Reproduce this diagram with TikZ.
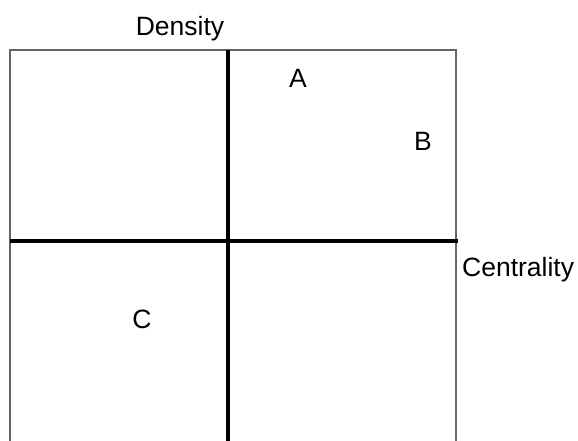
\documentclass[tikz,border=0pt]{standalone}
\usepackage{fontspec}
\setmainfont{Liberation Sans}
\begin{document}
\begin{tikzpicture}[x=1pt,y=-1pt,
  lbl/.style={anchor=base,inner sep=0pt,font=\fontsize{26.5}{31}\selectfont},
  outline/.style={draw=black!60,line width=1.3pt},
  axis/.style={draw=black,line width=3.5pt}]
\useasboundingbox (0,0) rectangle (578,441);
\coordinate (tl) at (10,50);
\coordinate (tr) at (456,50);
\coordinate (bl) at (10,445);
\coordinate (br) at (456,445);
\coordinate (vt) at (228,50);
\coordinate (vb) at (228,445);
\coordinate (hl) at (10,241);
\coordinate (hr) at (458,241);
\draw[outline] (bl) -- (tl) -- (tr) -- (br);
\draw[axis] (vt) -- (vb);
\draw[axis] (hl) -- (hr);
\node[lbl] (dens) at (180,36) {Density};
\node[lbl,anchor=base west] (cent) at (462,276) {Centrality};
\node[lbl] (a) at (298,88) {A};
\node[lbl] (b) at (423,150) {B};
\node[lbl] (c) at (142,328) {C};
\end{tikzpicture}
\end{document}
